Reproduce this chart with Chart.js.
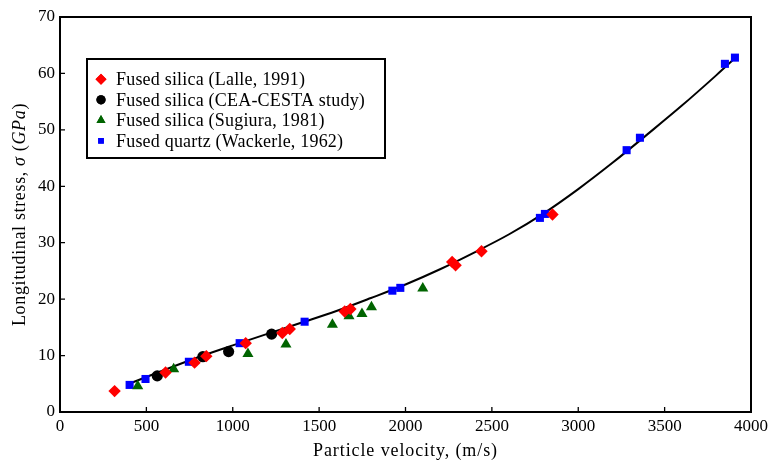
<!DOCTYPE html>
<html>
<head>
<meta charset="utf-8">
<script src="https://cdn.jsdelivr.net/npm/chart.js@4/dist/chart.umd.min.js"></script>
<style>
  html, body { margin: 0; padding: 0; background: #fff; }
  #wrap { width: 769px; height: 463px; }
</style>
</head>
<body>
<div id="wrap"><canvas id="c" width="769" height="463"></canvas></div>
<script>
// Shock Hugoniot of fused silica / quartz: particle velocity (m/s) vs longitudinal stress (GPa)

const lalleVel      = [316, 611, 779, 847, 1075, 1287, 1330, 1648, 1681, 2270, 2290, 2440, 2851];
const lalleStress   = [3.7, 7.0, 8.75, 9.9, 12.2, 14.0, 14.7, 17.8, 18.25, 26.6, 26.0, 28.5, 35.0];

const cestaVel      = [563, 827, 976, 1225];
const cestaStress   = [6.4, 9.8, 10.7, 13.8];

const sugiuraVel    = [450, 658, 1088, 1308, 1577, 1673, 1748, 1803, 2100];
const sugiuraStress = [4.6, 7.6, 10.3, 12.0, 15.5, 17.0, 17.4, 18.6, 21.9];

const wackVel       = [403, 495, 746, 833, 1040, 1416, 1924, 1970, 2778, 2807, 3280, 3357, 3849, 3907];
const wackStress    = [4.8, 5.85, 8.9, 9.9, 12.2, 16.0, 21.5, 22.0, 34.4, 35.1, 46.4, 48.6, 61.7, 62.8];

// fitted Hugoniot curve
const fitVel        = [400, 600, 800, 1000, 1200, 1400, 1600, 1800, 2000, 2200, 2400, 2600, 2800, 3000, 3200, 3400, 3600, 3800, 3900];
const fitStress     = [5.0, 7.4, 9.7, 11.8, 13.85, 15.85, 17.9, 20.2, 22.6, 25.3, 28.3, 31.5, 35.2, 39.5, 44.2, 49.2, 54.3, 59.7, 62.5];

const xTicks = [0, 500, 1000, 1500, 2000, 2500, 3000, 3500, 4000];
const yTicks = [0, 10, 20, 30, 40, 50, 60, 70];

const legendLabels = [
  'Fused silica (Lalle, 1991)',
  'Fused silica (CEA-CESTA study)',
  'Fused silica (Sugiura, 1981)',
  'Fused quartz (Wackerle, 1962)'
];

const SERIF = '"Liberation Serif", "Times New Roman", serif';
const zip = (xs, ys) => xs.map((x, i) => ({ x: x, y: ys[i] }));

const series = [
  { label: legendLabels[0], data: zip(lalleVel, lalleStress),     style: 'rectRot',  color: '#ff0000', r: 6.2, lr: 5.5, order: 1 },
  { label: legendLabels[1], data: zip(cestaVel, cestaStress),     style: 'circle',   color: '#000000', r: 5.6, lr: 4.6, order: 2 },
  { label: legendLabels[2], data: zip(sugiuraVel, sugiuraStress), style: 'triangle', color: '#006400', r: 6.4, lr: 5.2, order: 3 },
  { label: legendLabels[3], data: zip(wackVel, wackStress),       style: 'rect',     color: '#0000ff', r: 5.7, lr: 4.0, order: 4 }
];

const datasets = [{
  label: 'fit',
  data: zip(fitVel, fitStress),
  showLine: true,
  borderColor: '#000',
  borderWidth: 2,
  pointRadius: 0,
  cubicInterpolationMode: 'monotone',
  order: 10
}].concat(series.map(s => ({
  label: s.label,
  data: s.data,
  showLine: false,
  pointStyle: s.style,
  pointRadius: s.r,
  pointHoverRadius: s.r,
  pointBackgroundColor: s.color,
  pointBorderColor: s.color,
  pointBorderWidth: 0,
  order: s.order
})));

function setSpacing(ctx, px) {
  if ('letterSpacing' in ctx) ctx.letterSpacing = px + 'px';
}

// frame, inward ticks, axis titles and legend box
const decor = {
  id: 'decor',
  afterDatasetsDraw(chart) {
    const ctx = chart.ctx, a = chart.chartArea;
    const xs = chart.scales.x, ys = chart.scales.y;
    ctx.save();
    ctx.strokeStyle = '#000';
    ctx.lineWidth = 1.3;
    ctx.beginPath();
    xTicks.forEach(v => { const px = xs.getPixelForValue(v); ctx.moveTo(px, a.bottom); ctx.lineTo(px, a.bottom - 5); });
    yTicks.forEach(v => { const py = ys.getPixelForValue(v); ctx.moveTo(a.left, py); ctx.lineTo(a.left + 5, py); });
    ctx.stroke();
    ctx.lineWidth = 2;
    ctx.strokeRect(a.left, a.top, a.right - a.left, a.bottom - a.top);

    // x axis title
    ctx.fillStyle = '#000';
    ctx.font = '18px ' + SERIF;
    setSpacing(ctx, 0.9);
    ctx.textAlign = 'center';
    ctx.textBaseline = 'middle';
    ctx.fillText('Particle velocity, (m/s)', (a.left + a.right) / 2, 451);

    // y axis title with italic symbols
    setSpacing(ctx, 0.65);
    const parts = [
      ['Longitudinal stress, ', false], ['σ', true], [' (', false], ['GPa', true], [')', false]
    ];
    const fontFor = it => (it ? 'italic ' : '') + '18px ' + SERIF;
    let total = 0;
    parts.forEach(p => { ctx.font = fontFor(p[1]); total += ctx.measureText(p[0]).width; });
    ctx.translate(20, (a.top + a.bottom) / 2);
    ctx.rotate(-Math.PI / 2);
    ctx.textAlign = 'left';
    let cx = -total / 2;
    parts.forEach(p => { ctx.font = fontFor(p[1]); ctx.fillText(p[0], cx, 0); cx += ctx.measureText(p[0]).width; });
    ctx.restore();

    // legend
    ctx.save();
    const bx = a.left + 27, by = a.top + 42, bw = 298, bh = 99;
    ctx.fillStyle = '#fff';
    ctx.fillRect(bx, by, bw, bh);
    ctx.strokeStyle = '#000';
    ctx.lineWidth = 2;
    ctx.strokeRect(bx, by, bw, bh);
    ctx.font = '18px ' + SERIF;
    setSpacing(ctx, 0.2);
    ctx.textAlign = 'left';
    ctx.textBaseline = 'middle';
    series.forEach((s, i) => {
      const ry = by + 20.3 + i * 20.5;
      ctx.fillStyle = s.color;
      Chart.helpers.drawPoint(ctx, { pointStyle: s.style, radius: s.lr, borderWidth: 0, rotation: 0 }, bx + 14, ry);
      ctx.fill();
      ctx.fillStyle = '#000';
      ctx.fillText(s.label, bx + 29, ry + 1);
    });
    ctx.restore();
  }
};

new Chart(document.getElementById('c'), {
  type: 'scatter',
  data: { datasets: datasets },
  options: {
    responsive: false,
    animation: false,
    events: [],
    layout: { padding: { top: 17, right: 18, left: 0, bottom: 0 } },
    plugins: { legend: { display: false }, tooltip: { enabled: false } },
    scales: {
      x: {
        type: 'linear', min: 0, max: 4000,
        afterFit: s => { s.height = 51; s.paddingLeft = 0; s.paddingRight = 0; },
        afterBuildTicks: s => { s.ticks = xTicks.map(v => ({ value: v })); },
        grid: { display: false, drawTicks: false },
        border: { display: false },
        ticks: { color: '#000', font: { family: SERIF, size: 17 }, padding: 4, maxRotation: 0, callback: v => String(v) }
      },
      y: {
        type: 'linear', min: 0, max: 70,
        afterFit: s => { s.width = 60; s.paddingTop = 0; s.paddingBottom = 0; },
        afterBuildTicks: s => { s.ticks = yTicks.map(v => ({ value: v })); },
        grid: { display: false, drawTicks: false },
        border: { display: false },
        ticks: { color: '#000', font: { family: SERIF, size: 17 }, padding: 5, callback: v => String(v) }
      }
    }
  },
  plugins: [decor]
});
</script>
</body>
</html>
